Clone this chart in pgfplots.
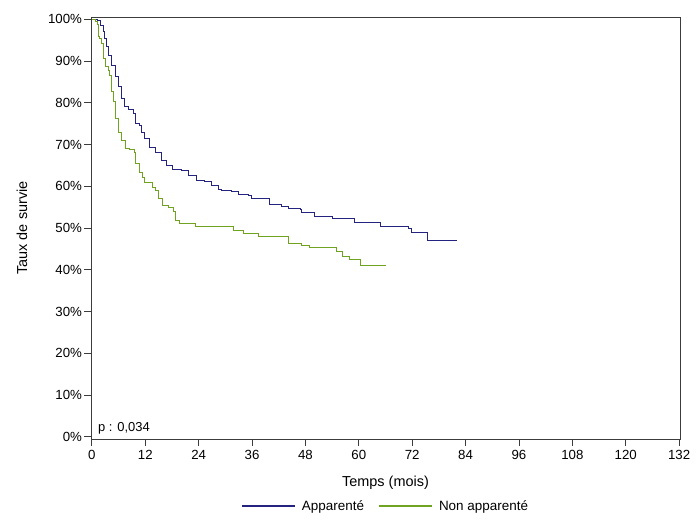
\documentclass[border=0pt]{standalone}
\usepackage{fontspec}
\setmainfont{Liberation Sans}
\usepackage{pgfplots}
\pgfplotsset{compat=1.18}
\definecolor{appblue}{RGB}{36,36,128}
\definecolor{nongreen}{RGB}{112,164,32}
\definecolor{framegray}{RGB}{60,60,60}
\begin{document}
\begin{tikzpicture}
\begin{axis}[
    name=ax,
    scale only axis,
    width=589bp, height=422bp,
    xmin=-0.2, xmax=132.2,
    ymin=-0.5, ymax=100.55,
    xtick={0,12,...,132},
    ytick={0,10,...,100},
    yticklabel={\pgfmathprintnumber{\tick}\%},
    xtick pos=bottom, ytick pos=left,
    tick align=outside,
    major tick length=6.5bp,
    axis line style={framegray, line width=0.9pt},
    tick style={framegray, line width=0.9pt},
    ticklabel style={font=\fontsize{13.3}{15}\selectfont},
    xticklabel style={yshift=-1bp},
    yticklabel style={xshift=1bp},
    /pgf/number format/assume math mode=true,
    xlabel={Temps (mois)},
    ylabel={Taux de survie},
    label style={font=\fontsize{14.5}{16}\selectfont},
    xlabel style={at={(axis description cs:0.5,-0.104)}, anchor=center},
    ylabel style={at={(axis description cs:-0.117,0.5)}, anchor=center},
    legend columns=2,
    legend style={draw=none, at={(axis description cs:0.5,-0.159)}, anchor=center,
        font=\fontsize{13.5}{15}\selectfont,
        /tikz/column 2/.style={column sep=12bp}},
    legend image code/.code={
        \draw[#1, line width=2pt] (0bp,0bp) -- (53bp,0bp);
        \path[draw=none] (0bp,0bp) -- (58bp,0bp);},
    clip=false,
]
\addplot[appblue, line width=1pt, const plot] coordinates {
(0,100) (1.3,99.7) (2.0,98.6) (2.5,97) (2.9,95.4) (3.3,93.4) (3.7,91.4) (4.4,89)
(5.2,86.2) (5.9,83.8) (6.7,81) (7.3,79) (8.2,78.5) (9.3,77.4) (9.8,75) (10.8,74.5)
(11.2,73) (11.9,71.4) (13,69.4) (14.2,68.2) (15.7,66.2) (16.8,65) (18.1,64)
(20.2,63.7) (21.7,62.7) (23.5,61.3) (25.4,61.1) (26.9,60.3) (28.4,59.3) (29.2,58.9)
(31.4,58.8) (32.9,58.1) (35.1,57.8) (35.9,57.2) (38.5,57) (40,55.7) (42.6,55.2)
(44.3,54.6) (46.8,54.4) (47.2,53.7) (50.1,52.7) (54.1,52.2) (59.1,51.3) (64.8,50.5)
(71.1,49.9) (71.9,49.0) (75.5,47.1) (82,47.1)
};
\addlegendentry{Apparenté}
\addplot[nongreen, line width=1pt, const plot] coordinates {
(0,100) (0.7,99.4) (1.3,98.8) (1.4,95.8) (1.8,95.4) (2.2,94.2) (2.7,90.6) (3.1,88.6)
(3.7,87.8) (4.0,86.6) (4.4,82.6) (4.8,80.2) (5.3,76.2) (5.9,73) (6.7,71) (7.6,69)
(8.5,68.9) (9.5,68.2) (9.9,65.4) (10.6,63.4) (11.3,62.2) (11.9,60.9) (13.6,59.8)
(14.3,59) (14.9,57) (15.8,55.5) (17.2,54.9) (18.3,53.9) (18.7,51.9) (19.8,51)
(23.4,50.3) (31.8,49.5) (34,48.7) (37.5,47.9) (44.2,46.3) (47.1,45.8) (49,45.3)
(55,44.3) (56.4,43.3) (58,42.4) (60.3,41.1) (66,41.1)
};
\addlegendentry{Non apparenté}
\node[anchor=south west, font=\fontsize{13}{15}\selectfont, inner sep=0pt]
    at (axis description cs:0,0) [xshift=7bp, yshift=5bp] {p : 0,034};
\coordinate (bl) at (axis description cs:0,0);
\coordinate (tr) at (axis description cs:1,1);
\end{axis}
\pgfresetboundingbox
\useasboundingbox ([xshift=-91bp,yshift=-86bp]bl) rectangle ([xshift=20bp,yshift=17bp]tr);
\end{tikzpicture}
\end{document}
